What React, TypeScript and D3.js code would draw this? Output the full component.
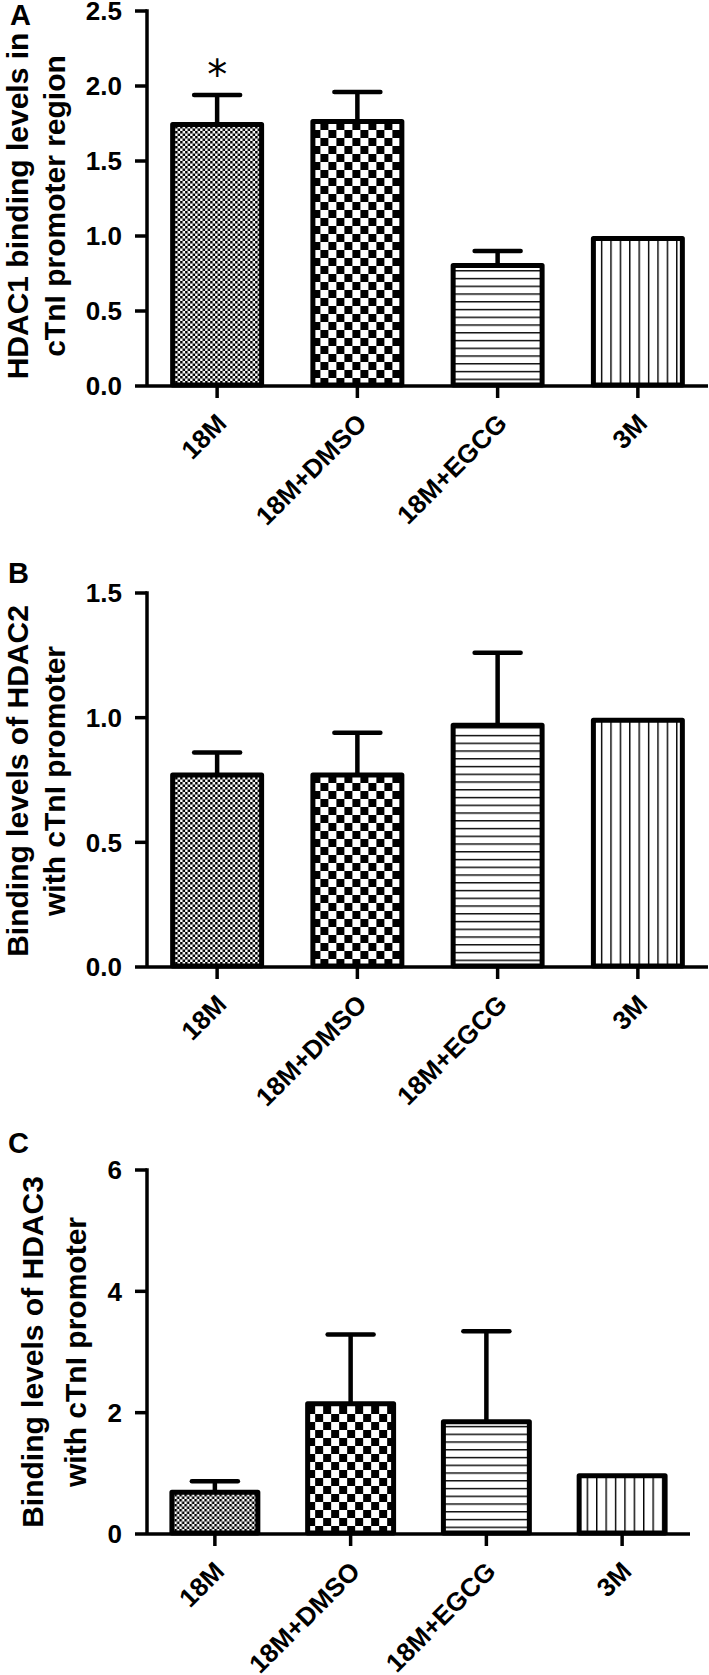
import React from 'react';
import * as d3 from 'd3';

const categories = ['18M', '18M+DMSO', '18M+EGCG', '3M'];

// panel A: HDAC1
const hdac1Mean = [1.76, 1.78, 0.82, 1.0];
const hdac1ErrTop = [1.94, 1.96, 0.9, NaN];
const hdac1Ticks = [0, 0.5, 1.0, 1.5, 2.0, 2.5];

// panel B: HDAC2
const hdac2Mean = [0.78, 0.78, 0.98, 1.0];
const hdac2ErrTop = [0.86, 0.94, 1.26, NaN];
const hdac2Ticks = [0, 0.5, 1.0, 1.5];

// panel C: HDAC3
const hdac3Mean = [0.73, 2.19, 1.89, 1.0];
const hdac3ErrTop = [0.87, 3.29, 3.34, NaN];
const hdac3Ticks = [0, 2, 4, 6];

const FONT = '"Liberation Sans", Arial, Helvetica, sans-serif';
const AXIS_X = 147;

type PanelProps = {
  id: string;
  letter: string;
  letterX: number;
  letterY: number;
  yTop: number;
  yBottom: number;
  xRight: number;
  ticks: number[];
  fmt: (v: number) => string;
  means: number[];
  errTops: number[];
  titleLines: string[];
  titleXs: number[];
  titleCy: number;
  star?: number; // index of bar that gets an asterisk
};

function Panel(p: PanelProps) {
  const y = d3
    .scaleLinear()
    .domain([0, d3.max(p.ticks) as number])
    .range([p.yBottom, p.yTop]);
  const x = d3
    .scaleBand()
    .domain(categories)
    .range([AXIS_X, p.xRight])
    .paddingInner(0.33)
    .paddingOuter(0.165);
  const bw = x.bandwidth();
  const sw = 5;

  const patFill = (i: number) => `url(#${p.id}-pat${i})`;

  return (
    <g>
      <defs>
        {categories.map((c, i) => {
          const bx = x(c) as number;
          if (i === 0) {
            // fine checker
            return (
              <pattern key={i} id={`${p.id}-pat${i}`} patternUnits="userSpaceOnUse" width={5} height={5} x={bx} y={p.yBottom}>
                <rect width={5} height={5} fill="#fff" />
                <rect width={2.5} height={2.5} fill="#000" />
                <rect x={2.5} y={2.5} width={2.5} height={2.5} fill="#000" />
              </pattern>
            );
          }
          if (i === 1) {
            // coarse checker
            return (
              <pattern key={i} id={`${p.id}-pat${i}`} patternUnits="userSpaceOnUse" width={16} height={16} x={bx + 2} y={p.yBottom}>
                <rect width={16} height={16} fill="#fff" />
                <rect width={8} height={8} fill="#000" />
                <rect x={8} y={8} width={8} height={8} fill="#000" />
              </pattern>
            );
          }
          if (i === 2) {
            // horizontal lines
            return (
              <pattern key={i} id={`${p.id}-pat${i}`} patternUnits="userSpaceOnUse" width={10} height={7.75} x={bx} y={p.yBottom - 7.4}>
                <rect width={10} height={7.75} fill="#fff" />
                <rect width={10} height={1.4} fill="#000" />
              </pattern>
            );
          }
          // vertical lines
          return (
            <pattern key={i} id={`${p.id}-pat${i}`} patternUnits="userSpaceOnUse" width={9.4} height={10} x={bx + 10} y={0}>
              <rect width={9.4} height={10} fill="#fff" />
              <rect width={1.4} height={10} fill="#000" />
            </pattern>
          );
        })}
      </defs>

      <text x={p.letterX} y={p.letterY} fontFamily={FONT} fontWeight="bold" fontSize={29}>
        {p.letter}
      </text>

      {p.titleLines.map((t, i) => (
        <text
          key={i}
          transform={`translate(${p.titleXs[i]},${p.titleCy}) rotate(-90)`}
          textAnchor="middle"
          fontFamily={FONT}
          fontWeight="bold"
          fontSize={30}
        >
          {t}
        </text>
      ))}

      {/* error bars (upper only) */}
      {categories.map((c, i) => {
        if (!Number.isFinite(p.errTops[i])) return null;
        const cx = (x(c) as number) + bw / 2;
        return (
          <g key={c} stroke="#000" strokeWidth={4.5}>
            <line x1={cx} x2={cx} y1={y(p.means[i]) + 3} y2={y(p.errTops[i])} />
            <line x1={cx - 23} x2={cx + 23} y1={y(p.errTops[i])} y2={y(p.errTops[i])} strokeLinecap="round" />
          </g>
        );
      })}

      {categories.map((c, i) => {
        const bx = x(c) as number;
        const top = y(p.means[i]);
        return (
          <rect
            key={c}
            x={bx + sw / 2}
            y={top + sw / 2}
            width={bw - sw}
            height={p.yBottom - top - sw / 2 - 1}
            fill={patFill(i)}
            stroke="#000"
            strokeWidth={sw}
            strokeLinejoin="round"
          />
        );
      })}

      {p.star !== undefined && (
        <text
          x={(x(categories[p.star]) as number) + bw / 2}
          y={y(p.errTops[p.star]) - 6}
          textAnchor="middle"
          fontFamily='"DejaVu Sans", sans-serif'
          fontSize={40}
        >
          *
        </text>
      )}

      {/* y axis */}
      <g stroke="#000" strokeWidth={3.5}>
        <line x1={AXIS_X} x2={AXIS_X} y1={p.yTop - 1.75} y2={p.yBottom} />
        {p.ticks.map((t) => (
          <line key={t} x1={AXIS_X - 12} x2={AXIS_X} y1={y(t)} y2={y(t)} />
        ))}
      </g>
      {p.ticks.map((t) => (
        <text
          key={t}
          x={AXIS_X - 25}
          y={y(t)}
          dy="0.36em"
          textAnchor="end"
          fontFamily={FONT}
          fontWeight="bold"
          fontSize={26}
        >
          {p.fmt(t)}
        </text>
      ))}

      {/* x axis */}
      <g stroke="#000" strokeWidth={3.5}>
        <line x1={AXIS_X} x2={p.xRight} y1={p.yBottom} y2={p.yBottom} />
        {categories.map((c) => {
          const cx = (x(c) as number) + bw / 2;
          return <line key={c} x1={cx} x2={cx} y1={p.yBottom} y2={p.yBottom + 12} />;
        })}
      </g>
      {categories.map((c) => {
        const cx = (x(c) as number) + bw / 2;
        return (
          <text
            key={c}
            transform={`translate(${cx + 11},${p.yBottom + 39}) rotate(-45)`}
            textAnchor="end"
            fontFamily={FONT}
            fontWeight="bold"
            fontSize={26}
          >
            {c}
          </text>
        );
      })}
    </g>
  );
}

export default function App() {
  const f1 = d3.format('.1f');
  const f0 = d3.format('d');
  return (
    <svg
      width={709}
      height={1675}
      viewBox="0 0 709 1675"
      style={{ position: 'absolute', left: 0, top: 0, background: '#fff' }}
    >
      <rect width={709} height={1675} fill="#fff" />
      <Panel
        id="a"
        letter="A"
        letterX={10}
        letterY={25}
        yTop={11}
        yBottom={386}
        xRight={708}
        ticks={hdac1Ticks}
        fmt={f1}
        means={hdac1Mean}
        errTops={hdac1ErrTop}
        titleLines={['HDAC1 binding levels in', 'cTnI promoter region']}
        titleXs={[27.5, 65]}
        titleCy={206}
        star={0}
      />
      <Panel
        id="b"
        letter="B"
        letterX={8}
        letterY={583}
        yTop={593}
        yBottom={967}
        xRight={708}
        ticks={hdac2Ticks}
        fmt={f1}
        means={hdac2Mean}
        errTops={hdac2ErrTop}
        titleLines={['Binding levels of HDAC2', 'with cTnI promoter']}
        titleXs={[27.5, 65]}
        titleCy={781}
      />
      <Panel
        id="c"
        letter="C"
        letterX={8}
        letterY={1153}
        yTop={1170}
        yBottom={1534}
        xRight={690}
        ticks={hdac3Ticks}
        fmt={f0}
        means={hdac3Mean}
        errTops={hdac3ErrTop}
        titleLines={['Binding levels of HDAC3', 'with cTnI promoter']}
        titleXs={[43, 86]}
        titleCy={1352}
      />
    </svg>
  );
}
